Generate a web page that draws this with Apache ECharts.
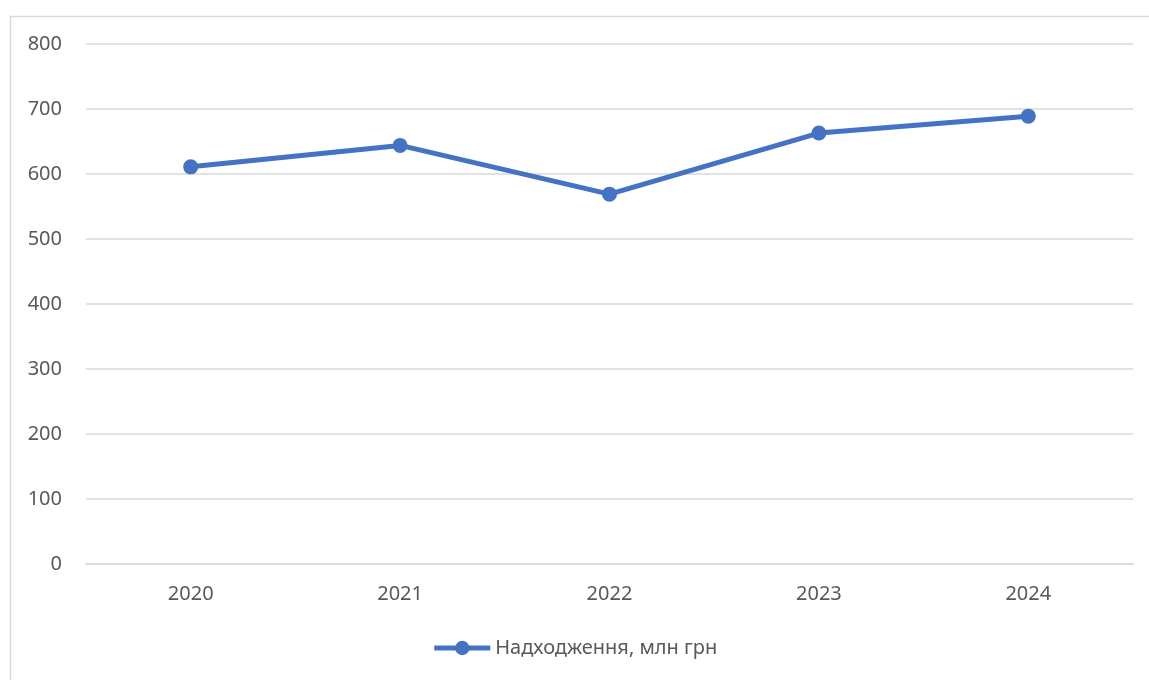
<!DOCTYPE html>
<html><head><meta charset="utf-8">
<script src="https://cdn.jsdelivr.net/npm/echarts@6/dist/echarts.min.js"></script>
<style>html,body{margin:0;padding:0;background:#fff;}#c{width:1149px;height:680px;}</style>
</head><body><div id="c"></div>
<script>
const categories = ['2020','2021','2022','2023','2024'];
const seriesName = 'Надходження, млн грн';
const values = [611, 644, 569, 663, 689];
const yTicks = { min: 0, max: 800, interval: 100 };

const FONT = 'Noto Sans, Open Sans, sans-serif';
const chart = echarts.init(document.getElementById('c'));
chart.setOption({
  animation: false,
  backgroundColor: '#fff',
  graphic: [{
    type: 'rect', left: 8, top: 14,
    shape: { width: 1160, height: 700 },
    style: { fill: 'none', stroke: '#d9d9d9', lineWidth: 1.5 }
  }],
  grid: { left: 86, right: 16, top: 44, bottom: 116 },
  legend: {
    bottom: 17, left: 'center',
    itemWidth: 56, itemHeight: 18, itemGap: 6,
    lineStyle: { width: 5 },
    textStyle: { color: '#595959', fontSize: 20, fontFamily: FONT },
    data: [seriesName]
  },
  xAxis: {
    type: 'category', data: categories, boundaryGap: true,
    axisLine: { show: true, lineStyle: { color: '#d9d9d9', width: 1.5 } },
    axisTick: { show: false },
    axisLabel: { color: '#595959', fontSize: 20, margin: 20, fontFamily: FONT }
  },
  yAxis: {
    type: 'value', min: yTicks.min, max: yTicks.max, interval: yTicks.interval,
    axisLine: { show: false }, axisTick: { show: false },
    splitLine: { lineStyle: { color: '#d9d9d9', width: 1.5 } },
    axisLabel: { color: '#595959', fontSize: 20, margin: 24, fontFamily: FONT }
  },
  series: [{
    name: seriesName, type: 'line', data: values,
    symbol: 'circle', symbolSize: 15,
    lineStyle: { color: '#4472C4', width: 5 },
    itemStyle: { color: '#4472C4' }
  }]
});
</script></body></html>
